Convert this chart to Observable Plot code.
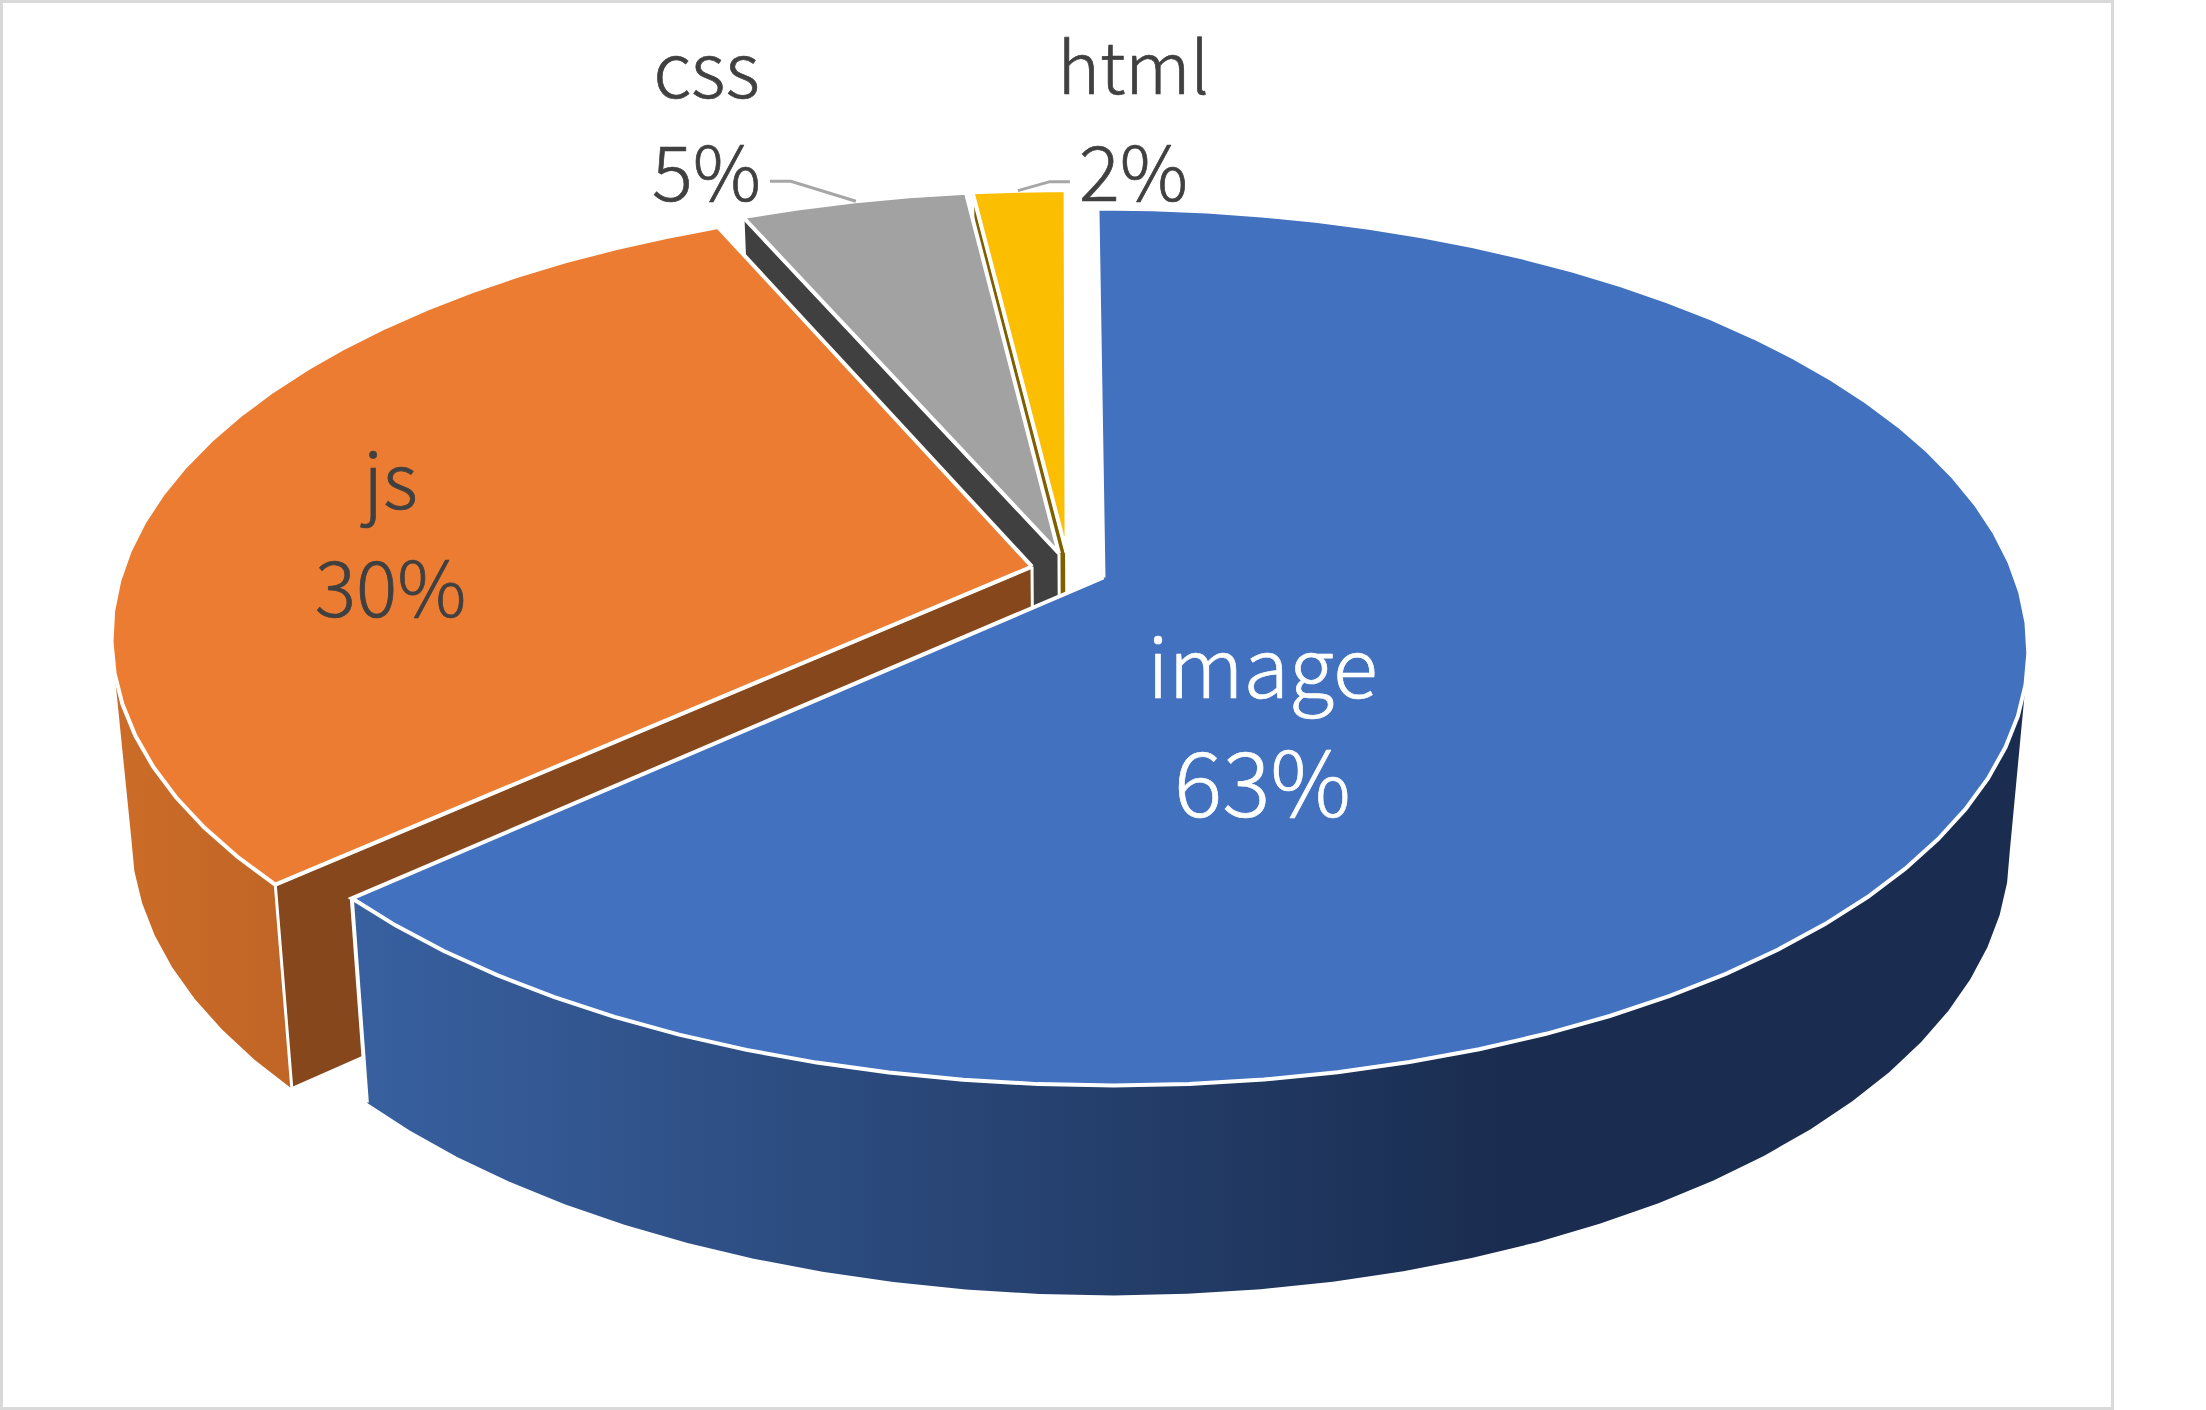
<!DOCTYPE html>
<html>
<head>
<meta charset="utf-8">
<script src="https://cdn.jsdelivr.net/npm/d3@7"></script>
<script src="https://cdn.jsdelivr.net/npm/@observablehq/plot@0.6"></script>
<style>html,body{margin:0;padding:0;background:#fff;height:1410px;overflow:hidden}svg{display:block}</style>
</head>
<body>
<div id="chart"></div>
<script>
const categories = ["image", "js", "css", "html"];
const shares = [63.3, 30.15, 4.65, 1.9];
const percentLabels = ["63%", "30%", "5%", "2%"];

const topColors = ["#4271C0", "#EB7C31", "#A2A2A2", "#FBBE00"];
const cutColors = ["#1A2D50", "#85471B", "#404040", "#7F6000"];
const wallLeft  = ["#38609F", "#CC6C28", "#404040", "#7F6000"];
const wallRight = ["#1A2D50", "#C06526", "#404040", "#7F6000"];
const wallFadeStart = [360, 110, 0, 0];
const wallFadeEnd = [1500, 295, 1, 1];

const labelX = [1262, 390, 706, 1133];
const labelY1 = [671, 484, 73, 70];
const labelY2 = [788, 592, 176, 176];
const nameSize = [83, 77, 76, 72];
const percentSize = [90, 77, 76, 76];
const labelColors = ["#FFFFFF", "#404040", "#404040", "#404040"];

// perspective view of the tilted pie, in page pixels
const view = {cx: 1103, cy: 577, a: 912, b: 427.5, shear: -7, k: 0.1585, explode: 0.0415,
              floorScale: 0.98, floorB: 440, depth: 195, step: 4, frontLimit: -0.2, floorLimit: -0.14};
const rad = d => d * Math.PI / 180;
const project = (u, v, floor) => {
  const w = 1 + view.k * v;
  const x = (view.a * u + view.shear * v) / w;
  const y = (floor ? view.floorB : view.b) * v / w;
  return floor
    ? {x: view.cx + view.floorScale * x, y: view.cy + view.depth - y}
    : {x: view.cx + x, y: view.cy - y};
};

let acc = 0;
const slices = categories.map((name, i) => {
  const a0 = acc * 3.6, a1 = (acc + shares[i]) * 3.6;
  acc += shares[i];
  return {name, i, a0, a1, mid: (a0 + a1) / 2};
});
const dir = a => [Math.sin(rad(a)), Math.cos(rad(a))];
const origin = dir(slices[0].mid);
slices.forEach(s => {
  const d = dir(s.mid);
  s.ou = view.explode * (d[0] - origin[0]);
  s.ov = view.explode * (d[1] - origin[1]);
  const n = Math.max(2, Math.round((s.a1 - s.a0) / view.step));
  s.angles = d3.range(n + 1).map(j => s.a0 + (s.a1 - s.a0) * j / n);
  s.rim = (a, floor) => { const d = dir(a); return project(s.ou + d[0], s.ov + d[1], floor); };
  s.apex = floor => project(s.ou, s.ov, floor);
});

const lineOpts = {x: "x", y: "y", curve: "linear", strokeLinejoin: "miter", strokeMiterlimit: 10, strokeLinecap: "butt"};

const sliceMarks = s => {
  // only the part of the rim that faces the viewer gets an outer wall
  const front = s.angles.filter(a => dir(a)[1] < view.frontLimit);
  const frontFloor = s.angles.filter(a => dir(a)[1] < view.floorLimit);
  const wall = [...front.map(a => s.rim(a)), ...[...frontFloor].reverse().map(a => s.rim(a, true))];
  const cut = [s.apex(), s.rim(s.a0), s.rim(s.a0, true), s.apex(true), s.apex()];
  const top = [s.apex(), ...s.angles.map(a => s.rim(a)), s.apex()];
  const edges = [s.rim(s.a1), s.rim(s.a1, true)];
  return [
    ...(front.length > 1 ? [Plot.line(wall, {...lineOpts, fill: `url(#wall${s.i})`, stroke: "none"})] : []),
    Plot.line(cut, {...lineOpts, fill: cutColors[s.i], stroke: "#fff", strokeWidth: 3}),
    Plot.line(edges, {...lineOpts, stroke: "#fff", strokeWidth: 4}),
    Plot.line(top, {...lineOpts, fill: topColors[s.i], stroke: "#fff", strokeWidth: 4})
  ];
};

// leader lines leave the rim of the two small slices
const leader = (s, at, elbowDx, endDx, rise) => {
  const p = s.rim(at);
  return [p, {x: p.x + elbowDx, y: p.y - rise}, {x: p.x + endDx, y: p.y - rise}];
};
const leaders = [
  leader(slices[2], 345, -65, -86, 20),
  leader(slices[3], 356.5, 32, 52, 9)
];

const fontFamily = '"Noto Sans CJK JP", "Noto Sans", sans-serif';
const textOpts = {fontFamily, fontWeight: 300, textAnchor: "middle", lineAnchor: "middle", text: d => d, strokeWidth: 0.7};

const chart = Plot.plot({
  width: 2206,
  height: 1410,
  margin: 0,
  x: {type: "linear", domain: [0, 2206], range: [0, 2206], axis: null},
  y: {type: "linear", domain: [0, 1410], range: [0, 1410], axis: null},
  style: {background: "#fff"},
  marks: [
    Plot.rect([{x1: 1.5, x2: 2112.5, y1: 1.5, y2: 1408.5}], {x1: "x1", x2: "x2", y1: "y1", y2: "y2", fill: "#fff", stroke: "#D9D9D9", strokeWidth: 3}),
    ...[...slices].reverse().flatMap(sliceMarks),
    ...leaders.map(l => Plot.line(l, {...lineOpts, stroke: "#A6A6A6", strokeWidth: 3})),
    ...categories.map((c, i) => Plot.text([c], {...textOpts, fontSize: nameSize[i], x: labelX[i], y: labelY1[i], fill: labelColors[i], stroke: labelColors[i]})),
    ...percentLabels.map((c, i) => Plot.text([c], {...textOpts, fontSize: percentSize[i], x: labelX[i], y: labelY2[i], fill: labelColors[i], stroke: labelColors[i]}))
  ]
});
const defs = d3.select(chart).append("defs");
slices.forEach(s => {
  const g = defs.append("linearGradient").attr("id", `wall${s.i}`).attr("gradientUnits", "userSpaceOnUse")
    .attr("x1", wallFadeStart[s.i]).attr("x2", wallFadeEnd[s.i]).attr("y1", 0).attr("y2", 0);
  g.append("stop").attr("offset", 0).attr("stop-color", wallLeft[s.i]);
  g.append("stop").attr("offset", 1).attr("stop-color", wallRight[s.i]);
});
document.getElementById("chart").appendChild(chart);
</script>
</body>
</html>
